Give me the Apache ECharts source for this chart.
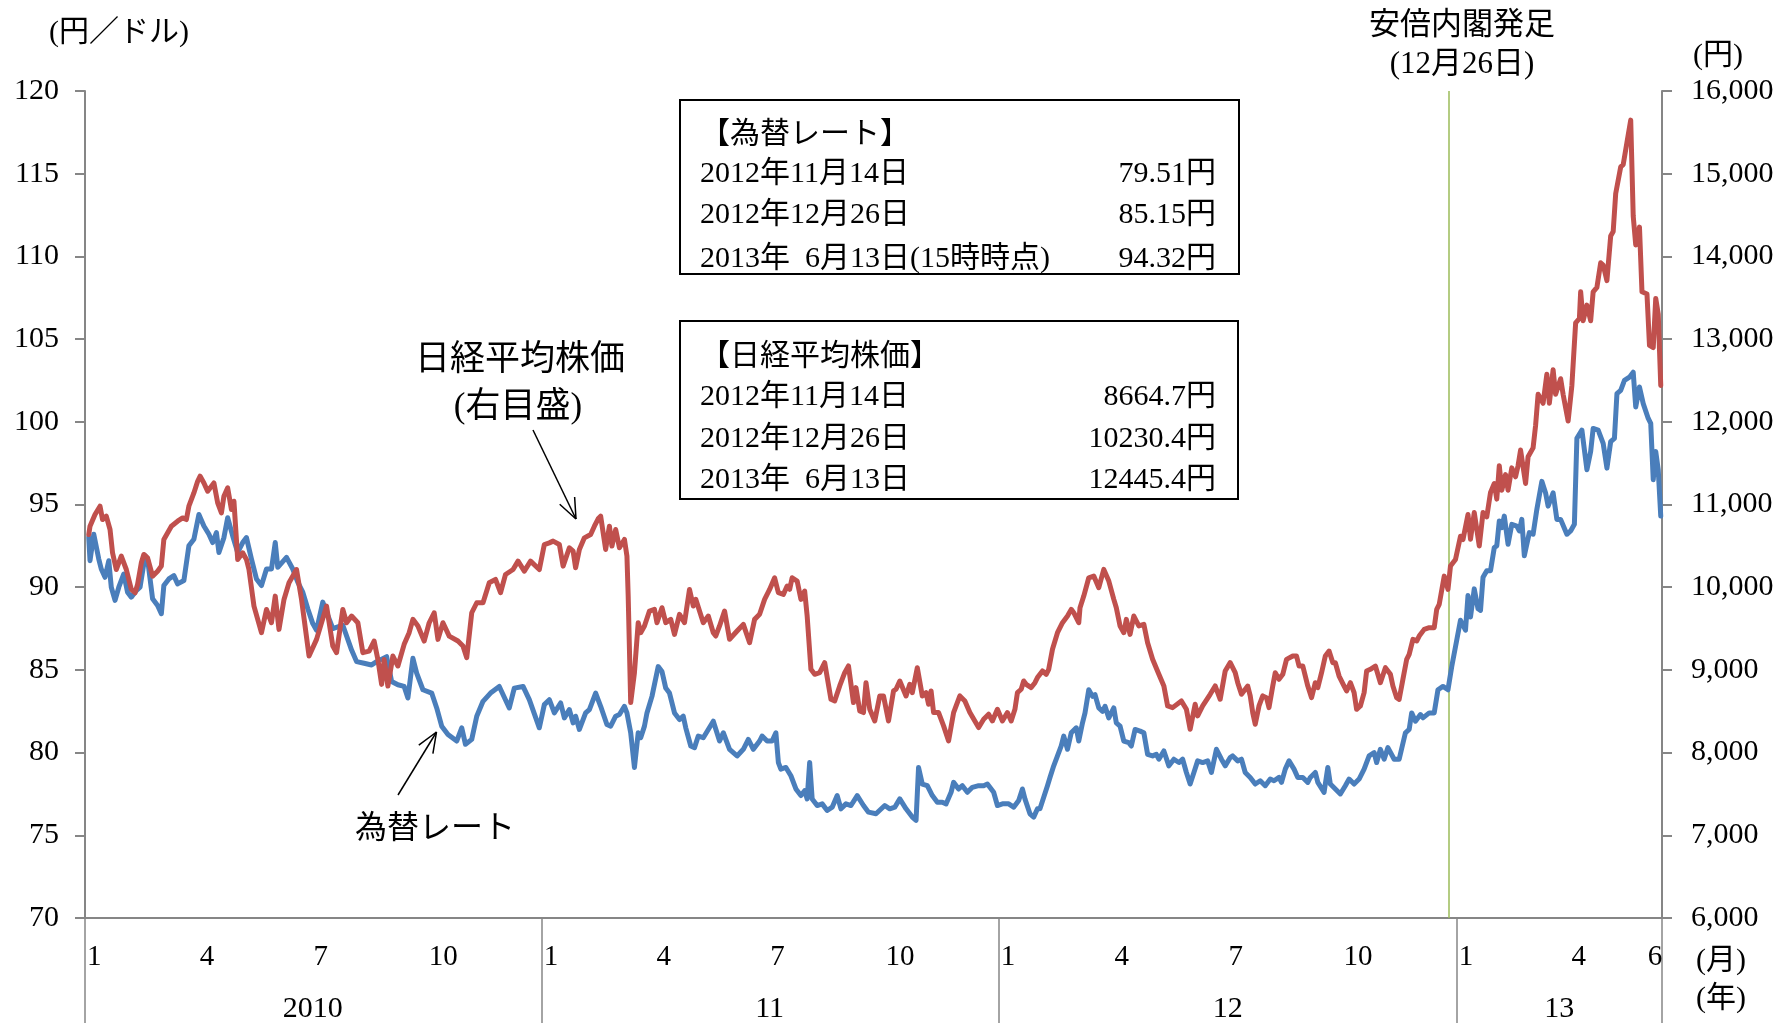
<!DOCTYPE html>
<html>
<head>
<meta charset="utf-8">
<script src="https://cdn.jsdelivr.net/npm/echarts@6/dist/echarts.min.js"></script>
<style>
html,body{margin:0;padding:0;background:#fff;}
#chart{width:1782px;height:1024px;}
</style>
</head>
<body>
<div id="chart"></div>
<script>
// ---- Data ----
// USD/JPY (円／ドル, left axis)
const fxRate = [
['2010-01-04',93.0],['2010-01-05',91.6],['2010-01-08',93.2],['2010-01-12',91.7],['2010-01-14',91.1],['2010-01-17',90.6],['2010-01-20',91.6],['2010-01-22',90.0],['2010-01-25',89.2],['2010-01-28',90.0],
['2010-02-01',90.8],['2010-02-04',89.7],['2010-02-07',89.4],['2010-02-11',89.8],['2010-02-14',90.0],['2010-02-18',91.9],['2010-02-20',91.7],['2010-02-24',89.3],['2010-02-28',88.9],
['2010-03-03',88.4],['2010-03-05',90.1],['2010-03-09',90.5],['2010-03-13',90.7],['2010-03-16',90.2],['2010-03-21',90.4],['2010-03-25',92.5],['2010-03-29',92.9],
['2010-04-02',94.4],['2010-04-06',93.7],['2010-04-10',93.2],['2010-04-13',92.7],['2010-04-16',93.3],['2010-04-18',92.1],['2010-04-22',93.0],['2010-04-25',94.2],['2010-04-29',93.1],
['2010-05-03',92.1],['2010-05-07',92.7],['2010-05-10',93.0],['2010-05-14',91.7],['2010-05-18',90.5],['2010-05-22',90.1],['2010-05-26',91.1],['2010-05-30',91.1],
['2010-06-02',92.7],['2010-06-04',91.2],['2010-06-11',91.8],['2010-06-16',91.1],['2010-06-20',90.3],['2010-06-24',89.7],['2010-06-28',88.7],
['2010-07-02',87.8],['2010-07-05',87.4],['2010-07-10',89.1],['2010-07-18',87.5],['2010-07-26',87.7],
['2010-08-02',86.2],['2010-08-06',85.5],['2010-08-12',85.4],['2010-08-18',85.3],['2010-08-22',85.5],['2010-08-30',85.8],
['2010-09-03',84.3],['2010-09-08',84.1],['2010-09-13',84.0],['2010-09-16',83.3],['2010-09-20',85.7],['2010-09-23',84.8],['2010-09-28',83.8],
['2010-10-05',83.6],['2010-10-09',82.7],['2010-10-13',81.6],['2010-10-18',81.1],['2010-10-25',80.7],['2010-10-29',81.5],
['2010-11-01',80.5],['2010-11-06',80.8],['2010-11-10',82.2],['2010-11-15',83.1],['2010-11-21',83.6],['2010-11-28',84.0],
['2010-12-06',82.7],['2010-12-10',83.9],['2010-12-17',84.0],['2010-12-22',83.2],['2010-12-30',81.5],
['2011-01-03',82.9],['2011-01-07',83.2],['2011-01-11',82.4],['2011-01-16',83.0],['2011-01-19',82.1],['2011-01-23',82.6],['2011-01-26',81.8],['2011-01-28',82.2],['2011-01-31',81.4],
['2011-02-05',82.4],['2011-02-08',82.6],['2011-02-13',83.6],['2011-02-17',82.8],['2011-02-22',81.7],['2011-02-25',81.6],
['2011-03-01',82.2],['2011-03-04',82.3],['2011-03-08',82.8],['2011-03-10',82.4],['2011-03-13',81.2],['2011-03-16',79.1],['2011-03-19',81.2],['2011-03-21',80.9],['2011-03-24',81.6],['2011-03-26',82.4],['2011-03-30',83.4],
['2011-04-04',85.2],['2011-04-07',84.9],['2011-04-10',83.9],['2011-04-13',83.6],['2011-04-17',82.4],['2011-04-21',82.0],['2011-04-24',82.2],['2011-04-26',81.5],['2011-04-30',80.4],
['2011-05-03',80.3],['2011-05-06',81.0],['2011-05-10',80.9],['2011-05-14',81.4],['2011-05-18',81.9],['2011-05-23',80.7],['2011-05-26',81.2],['2011-05-31',80.2],
['2011-06-06',79.8],['2011-06-11',80.2],['2011-06-15',80.8],['2011-06-19',80.2],['2011-06-24',80.7],['2011-06-26',81.0],['2011-06-30',80.7],
['2011-07-04',80.7],['2011-07-07',81.2],['2011-07-09',79.4],['2011-07-11',79.0],['2011-07-15',79.1],['2011-07-19',78.6],['2011-07-23',77.8],['2011-07-27',77.4],['2011-07-30',77.7],
['2011-08-01',77.2],['2011-08-03',79.4],['2011-08-05',77.2],['2011-08-09',76.8],['2011-08-13',76.9],['2011-08-17',76.5],['2011-08-21',76.7],['2011-08-25',77.4],['2011-08-28',76.6],
['2011-09-01',76.9],['2011-09-05',76.8],['2011-09-10',77.4],['2011-09-15',76.8],['2011-09-19',76.4],['2011-09-25',76.3],
['2011-10-02',76.8],['2011-10-06',76.6],['2011-10-10',76.7],['2011-10-14',77.2],['2011-10-19',76.6],['2011-10-24',76.1],['2011-10-27',75.9],['2011-10-29',79.1],
['2011-11-01',78.1],['2011-11-05',78.0],['2011-11-09',77.4],['2011-11-13',77.0],['2011-11-17',77.0],['2011-11-20',76.9],['2011-11-24',77.6],['2011-11-26',78.2],['2011-11-30',77.8],
['2011-12-03',78.0],['2011-12-07',77.6],['2011-12-11',77.9],['2011-12-16',78.0],['2011-12-20',78.0],['2011-12-23',78.1],['2011-12-28',77.6],['2011-12-31',76.8],
['2012-01-04',76.9],['2012-01-09',76.9],['2012-01-13',76.7],['2012-01-17',77.1],['2012-01-20',77.8],['2012-01-22',77.2],['2012-01-26',76.3],['2012-01-29',76.1],
['2012-02-01',76.6],['2012-02-03',76.6],['2012-02-06',77.3],['2012-02-09',78.0],['2012-02-11',78.5],['2012-02-14',79.2],['2012-02-17',79.8],['2012-02-20',80.4],['2012-02-22',81.0],['2012-02-25',80.2],['2012-02-28',81.2],
['2012-03-03',81.5],['2012-03-05',80.7],['2012-03-08',81.8],['2012-03-10',82.4],['2012-03-13',83.8],['2012-03-16',83.4],['2012-03-18',83.5],['2012-03-21',82.7],['2012-03-24',82.5],['2012-03-26',82.8],['2012-03-29',82.1],
['2012-04-02',82.7],['2012-04-04',81.8],['2012-04-07',81.6],['2012-04-10',80.7],['2012-04-14',80.6],['2012-04-16',80.4],['2012-04-19',81.4],['2012-04-23',81.3],['2012-04-26',81.2],['2012-04-29',79.9],
['2012-05-03',79.8],['2012-05-06',79.9],['2012-05-08',79.6],['2012-05-12',80.1],['2012-05-16',79.2],['2012-05-20',79.6],['2012-05-24',79.4],['2012-05-27',79.6],['2012-05-30',78.8],
['2012-06-02',78.1],['2012-06-05',78.8],['2012-06-08',79.5],['2012-06-12',79.4],['2012-06-16',79.5],['2012-06-19',78.8],['2012-06-23',80.2],['2012-06-27',79.6],['2012-06-30',79.2],
['2012-07-04',79.7],['2012-07-06',79.8],['2012-07-10',79.5],['2012-07-13',79.6],['2012-07-16',78.8],['2012-07-20',78.5],['2012-07-24',78.1],['2012-07-28',78.3],
['2012-08-01',78.0],['2012-08-05',78.4],['2012-08-08',78.3],['2012-08-12',78.5],['2012-08-14',78.2],['2012-08-17',79.0],['2012-08-20',79.5],['2012-08-24',79.0],['2012-08-27',78.5],['2012-08-31',78.5],
['2012-09-04',78.2],['2012-09-06',78.5],['2012-09-10',78.8],['2012-09-12',78.2],['2012-09-17',77.6],['2012-09-20',79.1],['2012-09-22',78.1],['2012-09-26',77.8],['2012-09-30',77.5],
['2012-10-04',78.0],['2012-10-07',78.4],['2012-10-11',78.1],['2012-10-15',78.4],['2012-10-19',79.0],['2012-10-23',79.8],['2012-10-27',80.0],['2012-10-29',79.4],
['2012-11-01',80.2],['2012-11-04',79.6],['2012-11-07',80.3],['2012-11-12',79.6],['2012-11-16',79.6],['2012-11-21',81.2],['2012-11-24',81.4],['2012-11-26',82.4],['2012-11-29',81.9],
['2012-12-03',82.3],['2012-12-05',82.1],['2012-12-10',82.4],['2012-12-14',82.4],['2012-12-17',83.8],['2012-12-21',84.0],['2012-12-25',83.8],['2012-12-28',85.2],
['2013-01-01',86.8],['2013-01-04',88.0],['2013-01-08',87.4],['2013-01-10',89.5],['2013-01-12',88.2],['2013-01-15',89.9],['2013-01-18',88.7],['2013-01-20',88.6],['2013-01-22',90.6],['2013-01-25',91.0],['2013-01-28',91.0],['2013-01-31',92.4],
['2013-02-02',92.5],['2013-02-04',94.0],['2013-02-06',93.6],['2013-02-08',94.3],['2013-02-11',92.6],['2013-02-14',93.8],['2013-02-18',93.7],['2013-02-20',93.4],['2013-02-22',94.1],['2013-02-24',91.9],['2013-02-28',93.3],
['2013-03-03',93.2],['2013-03-06',94.7],['2013-03-10',96.4],['2013-03-13',95.7],['2013-03-15',94.9],['2013-03-19',95.7],['2013-03-22',94.1],['2013-03-25',94.1],['2013-03-30',93.2],
['2013-04-02',93.4],['2013-04-05',93.8],['2013-04-07',99.0],['2013-04-11',99.5],['2013-04-15',97.1],['2013-04-18',98.2],['2013-04-20',99.6],['2013-04-24',99.5],['2013-04-28',98.7],
['2013-05-01',97.2],['2013-05-04',98.8],['2013-05-07',99.0],['2013-05-09',101.7],['2013-05-12',101.9],['2013-05-15',102.5],['2013-05-19',102.7],['2013-05-22',103.0],['2013-05-24',100.9],['2013-05-27',102.1],['2013-05-30',101.1],
['2013-06-03',100.2],['2013-06-05',99.9],['2013-06-07',96.5],['2013-06-09',98.2],['2013-06-11',97.1],['2013-06-13',94.3]
];

// Nikkei 225 (円, right axis)
const nikkei = [
['2010-01-04',10637],['2010-01-05',10738],['2010-01-09',10879],['2010-01-13',10979],['2010-01-15',10818],['2010-01-18',10859],['2010-01-21',10698],['2010-01-23',10416],['2010-01-26',10214],['2010-01-30',10375],
['2010-02-03',10214],['2010-02-07',9973],['2010-02-10',9933],['2010-02-12',10033],['2010-02-15',10295],['2010-02-17',10396],['2010-02-20',10355],['2010-02-24',10134],['2010-02-28',10194],
['2010-03-03',10255],['2010-03-05',10577],['2010-03-11',10738],['2010-03-16',10798],['2010-03-20',10838],['2010-03-23',10818],['2010-03-25',10979],['2010-03-29',11140],
['2010-04-01',11281],['2010-04-03',11342],['2010-04-06',11261],['2010-04-09',11161],['2010-04-14',11261],['2010-04-17',11020],['2010-04-20',10899],['2010-04-22',11100],['2010-04-25',11201],['2010-04-28',10939],['2010-04-30',11040],
['2010-05-03',10335],['2010-05-07',10416],['2010-05-10',10335],['2010-05-12',10214],['2010-05-16',9772],['2010-05-22',9450],['2010-05-26',9731],['2010-05-30',9570],
['2010-06-02',9892],['2010-06-05',9490],['2010-06-09',9852],['2010-06-13',10053],['2010-06-19',10214],['2010-06-23',9852],['2010-06-29',9168],
['2010-07-05',9369],['2010-07-13',9772],['2010-07-18',9288],['2010-07-21',9208],['2010-07-26',9731],['2010-07-29',9570],
['2010-08-02',9651],['2010-08-07',9570],['2010-08-11',9208],['2010-08-16',9228],['2010-08-20',9349],['2010-08-23',9127],['2010-08-26',8825],['2010-08-28',9127],['2010-08-31',8805],
['2010-09-04',9168],['2010-09-08',9047],['2010-09-13',9309],['2010-09-17',9450],['2010-09-20',9611],['2010-09-24',9530],['2010-09-29',9349],
['2010-10-03',9570],['2010-10-07',9691],['2010-10-10',9369],['2010-10-14',9570],['2010-10-19',9409],['2010-10-26',9349],['2010-10-30',9288],
['2010-11-02',9148],['2010-11-06',9691],['2010-11-10',9812],['2010-11-15',9812],['2010-11-20',10053],['2010-11-25',10094],['2010-11-29',9933],
['2010-12-03',10154],['2010-12-09',10214],['2010-12-13',10315],['2010-12-18',10194],['2010-12-23',10315],['2010-12-30',10214],
['2011-01-03',10516],['2011-01-07',10536],['2011-01-10',10557],['2011-01-15',10517],['2011-01-18',10255],['2011-01-23',10477],['2011-01-26',10436],['2011-01-28',10235],['2011-01-31',10457],
['2011-02-04',10597],['2011-02-09',10638],['2011-02-12',10738],['2011-02-15',10827],['2011-02-17',10859],['2011-02-21',10457],['2011-02-24',10738],['2011-02-26',10497],
['2011-03-01',10698],['2011-03-04',10477],['2011-03-08',10577],['2011-03-10',10376],['2011-03-11',9893],['2011-03-13',8605],['2011-03-16',8967],['2011-03-19',9571],['2011-03-21',9450],['2011-03-24',9531],['2011-03-28',9712],
['2011-04-01',9732],['2011-04-03',9571],['2011-04-07',9752],['2011-04-10',9571],['2011-04-14',9611],['2011-04-17',9430],['2011-04-21',9672],['2011-04-25',9571],['2011-04-29',9973],
['2011-05-02',9772],['2011-05-04',9853],['2011-05-10',9571],['2011-05-14',9651],['2011-05-18',9450],['2011-05-20',9410],['2011-05-23',9531],['2011-05-27',9712],['2011-05-31',9370],
['2011-06-06',9470],['2011-06-11',9551],['2011-06-16',9329],['2011-06-20',9611],['2011-06-24',9672],['2011-06-28',9853],
['2011-07-02',9973],['2011-07-06',10114],['2011-07-09',9933],['2011-07-13',9913],['2011-07-16',10014],['2011-07-18',9974],['2011-07-20',10114],['2011-07-24',10074],['2011-07-27',9853],['2011-07-30',9953],
['2011-08-01',9651],['2011-08-04',9007],['2011-08-07',8947],['2011-08-11',8967],['2011-08-15',9088],['2011-08-20',8645],['2011-08-23',8625],['2011-08-27',8806],['2011-08-31',8967],
['2011-09-03',9048],['2011-09-07',8605],['2011-09-09',8786],['2011-09-12',8504],['2011-09-15',8484],['2011-09-17',8846],['2011-09-20',8524],['2011-09-24',8383],['2011-09-28',8685],
['2011-10-01',8685],['2011-10-05',8383],['2011-10-09',8746],['2011-10-11',8766],['2011-10-14',8866],['2011-10-19',8685],['2011-10-22',8826],['2011-10-24',8725],['2011-10-28',9027],
['2011-11-01',8685],['2011-11-04',8725],['2011-11-06',8585],['2011-11-08',8746],['2011-11-10',8484],['2011-11-14',8484],['2011-11-18',8323],['2011-11-22',8142],['2011-11-26',8484],
['2011-12-01',8685],['2011-12-05',8625],['2011-12-09',8484],['2011-12-16',8303],['2011-12-20',8403],['2011-12-24',8464],['2011-12-27',8383],['2011-12-31',8524],
['2012-01-04',8383],['2012-01-08',8484],['2012-01-11',8383],['2012-01-14',8524],['2012-01-16',8725],['2012-01-19',8766],['2012-01-21',8866],['2012-01-23',8826],['2012-01-27',8786],['2012-01-30',8846],
['2012-02-01',8907],['2012-02-05',8987],['2012-02-08',8947],['2012-02-10',9007],['2012-02-13',9249],['2012-02-17',9450],['2012-02-21',9571],['2012-02-25',9651],['2012-02-28',9732],
['2012-03-01',9692],['2012-03-05',9571],['2012-03-06',9752],['2012-03-09',9893],['2012-03-13',10114],['2012-03-17',10135],['2012-03-21',9994],['2012-03-25',10215],['2012-03-29',10074],
['2012-04-02',9853],['2012-04-04',9752],['2012-04-07',9531],['2012-04-10',9450],['2012-04-12',9611],['2012-04-15',9430],['2012-04-18',9651],['2012-04-22',9531],['2012-04-26',9551],['2012-04-29',9329],
['2012-05-03',9128],['2012-05-08',8947],['2012-05-12',8806],['2012-05-15',8564],['2012-05-19',8544],['2012-05-26',8625],['2012-05-30',8524],
['2012-06-02',8283],['2012-06-06',8584],['2012-06-08',8444],['2012-06-12',8564],['2012-06-18',8705],['2012-06-22',8806],['2012-06-26',8645],['2012-06-30',8987],
['2012-07-04',9088],['2012-07-08',8966],['2012-07-10',8845],['2012-07-13',8705],['2012-07-18',8805],['2012-07-20',8685],['2012-07-22',8483],['2012-07-24',8342],['2012-07-27',8564],['2012-07-30',8685],
['2012-08-02',8664],['2012-08-04',8544],['2012-08-07',8805],['2012-08-09',8966],['2012-08-12',8886],['2012-08-15',8946],['2012-08-18',9127],['2012-08-23',9168],['2012-08-26',9168],['2012-08-28',9047],['2012-08-31',9047],
['2012-09-04',8805],['2012-09-07',8664],['2012-09-10',8845],['2012-09-12',8785],['2012-09-15',8966],['2012-09-18',9168],['2012-09-21',9228],['2012-09-24',9087],['2012-09-26',9087],['2012-09-29',8926],
['2012-10-03',8805],['2012-10-05',8745],['2012-10-08',8845],['2012-10-11',8725],['2012-10-13',8523],['2012-10-16',8564],['2012-10-19',8725],['2012-10-21',8986],['2012-10-24',9007],['2012-10-28',9047],
['2012-11-01',8845],['2012-11-05',9027],['2012-11-09',8946],['2012-11-11',8805],['2012-11-14',8664],['2012-11-16',8644],['2012-11-19',8886],['2012-11-22',9127],['2012-11-24',9188],['2012-11-27',9369],['2012-11-30',9349],
['2012-12-02',9409],['2012-12-06',9490],['2012-12-10',9510],['2012-12-14',9510],['2012-12-16',9731],['2012-12-18',9792],['2012-12-22',10134],['2012-12-25',9973],['2012-12-27',10255],['2012-12-31',10335],
['2013-01-04',10617],['2013-01-06',10577],['2013-01-10',10879],['2013-01-12',10580],['2013-01-15',10903],['2013-01-19',10499],['2013-01-22',10903],['2013-01-25',10850],['2013-01-28',11146],['2013-01-31',11254],
['2013-02-02',11065],['2013-02-04',11469],['2013-02-06',11173],['2013-02-09',11362],['2013-02-11',11173],['2013-02-14',11443],['2013-02-17',11335],['2013-02-19',11469],['2013-02-21',11658],['2013-02-25',11254],['2013-02-27',11577],
['2013-03-03',11685],['2013-03-05',11955],['2013-03-07',12332],['2013-03-11',12224],['2013-03-14',12575],['2013-03-16',12224],['2013-03-19',12629],['2013-03-21',12332],['2013-03-25',12521],['2013-03-27',12332],['2013-03-31',12009],
['2013-04-03',12440],['2013-04-06',13195],['2013-04-09',13249],['2013-04-10',13572],['2013-04-12',13222],['2013-04-15',13411],['2013-04-18',13222],['2013-04-20',13572],['2013-04-23',13626],['2013-04-26',13923],['2013-04-28',13896],
['2013-05-01',13707],['2013-05-04',14246],['2013-05-06',14300],['2013-05-08',14759],['2013-05-12',15082],['2013-05-14',15109],['2013-05-17',15379],['2013-05-20',15648],['2013-05-22',14489],['2013-05-24',14139],['2013-05-27',14354],['2013-05-29',13572],
['2013-06-02',13545],['2013-06-04',12925],['2013-06-07',12898],['2013-06-09',13492],['2013-06-11',13303],['2013-06-13',12440]
];

// Axis ranges / ticks
const xStart = '2010-01-01';
const xEnd = '2013-06-14';
const monthLabelDates = ['2010-01-01','2010-04-01','2010-07-01','2010-10-01','2011-01-01','2011-04-01','2011-07-01','2011-10-01','2012-01-01','2012-04-01','2012-07-01','2012-10-01','2013-01-01','2013-04-01','2013-06-01'];
const yearLabelDates = ['2010-07-02','2011-07-02','2012-07-02','2013-03-24'];
const yearLabels = ['2010','11','12','13'];
const yearSeparatorDates = ['2010-01-01','2011-01-01','2012-01-01','2013-01-01','2013-06-14'];
const abeCabinetDate = '2012-12-26';

// Text boxes
const fxBoxTitle = '【為替レート】';
const fxBoxRows = [['2012年11月14日','79.51円'],['2012年12月26日','85.15円'],['2013年\u20026月13日(15時時点)','94.32円']];
const nkBoxTitle = '【日経平均株価】';
const nkBoxRows = [['2012年11月14日','8664.7円'],['2012年12月26日','10230.4円'],['2013年\u20026月13日','12445.4円']];

// ---- Rendering ----
const FONT = "'Liberation Serif', 'Noto Sans CJK JP', serif";
const AXIS_GRAY = '#868686';
const RED = '#C0504D';
const BLUE = '#4A7EBB';
const GREEN = '#9BBB59';

function ts(s){ const p = s.split('-').map(Number); return new Date(p[0], p[1]-1, p[2]).getTime(); }

const chart = echarts.init(document.getElementById('chart'), null, {renderer:'canvas'});

function txt(text, x, y, size, align, valign){
  return {type:'text', z:100, style:{text:text, x:x, y:y, fill:'#000',
    font: size + 'px ' + FONT, textAlign:align||'center', textVerticalAlign:valign||'middle',
    align:align||'center', verticalAlign:valign||'middle'}};
}
function line(x1,y1,x2,y2,w){
  return {type:'line', z:100, shape:{x1:x1,y1:y1,x2:x2,y2:y2}, style:{stroke:'#000', lineWidth:w||1.5}};
}

const graphics = [
  txt('(円／ドル)', 119, 33, 30),
  txt('(円)', 1718, 56, 30),
  txt('(月)', 1721, 961, 30),
  txt('(年)', 1721, 999, 30),
  txt('安倍内閣発足', 1462, 26, 31),
  txt('(12月26日)', 1462, 65, 31),
  txt('日経平均株価', 520, 361, 35),
  txt('(右目盛)', 518, 408, 35),
  txt('為替レート', 435, 830, 32),
  // arrows
  line(533, 430, 576, 519), line(576, 519, 574.6, 497), line(576, 519, 559.7, 504.2),
  line(398, 795, 436.5, 732), line(436.5, 732, 418.8, 745.1), line(436.5, 732, 432.9, 753.7),
  // boxes
  {type:'rect', z:100, shape:{x:680, y:100, width:559, height:174}, style:{fill:'none', stroke:'#000', lineWidth:2}},
  {type:'rect', z:100, shape:{x:680, y:321, width:558, height:178}, style:{fill:'none', stroke:'#000', lineWidth:2}},
  txt(fxBoxTitle, 700, 135, 30, 'left'),
  txt(nkBoxTitle, 700, 357, 30, 'left')
];
const fxRowY = [174, 215, 259];
fxBoxRows.forEach((r,i)=>{ graphics.push(txt(r[0], 700, fxRowY[i], 30, 'left')); graphics.push(txt(r[1], 1216, fxRowY[i], 30, 'right')); });
const nkRowY = [397, 439, 480];
nkBoxRows.forEach((r,i)=>{ graphics.push(txt(r[0], 700, nkRowY[i], 30, 'left')); graphics.push(txt(r[1], 1216, nkRowY[i], 30, 'right')); });

const option = {
  animation: false,
  backgroundColor: '#ffffff',
  textStyle: {fontFamily: FONT},
  grid: {left: 85, right: 120, top: 91, bottom: 105, containLabel: false},
  xAxis: [
    {
      type: 'value', min: ts(xStart), max: ts(xEnd), position: 'bottom',
      axisLine: {show: true, lineStyle: {color: AXIS_GRAY, width: 2}},
      axisTick: {show: true, inside: false, length: 105, customValues: yearSeparatorDates.map(ts), lineStyle: {color: AXIS_GRAY, width: 1.5}},
      axisLabel: {show: true, customValues: monthLabelDates.map(ts), align: 'left', margin: 25,
        color: '#000', fontSize: 29, fontFamily: FONT, padding: [0,0,0,2],
        formatter: function(v){ return String(new Date(v).getMonth() + 1); }},
      splitLine: {show: false}
    },
    {
      type: 'value', min: ts(xStart), max: ts(xEnd), position: 'bottom', gridIndex: 0,
      axisLine: {show: false}, axisTick: {show: false}, splitLine: {show: false},
      axisLabel: {show: true, customValues: yearLabelDates.map(ts), align: 'center', margin: 76,
        color: '#000', fontSize: 30, fontFamily: FONT,
        formatter: function(v){ const y = new Date(v).getFullYear(); return yearLabels[y - 2010]; }}
    }
  ],
  yAxis: [
    {
      type: 'value', min: 70, max: 120, interval: 5, position: 'left',
      axisLine: {show: true, lineStyle: {color: AXIS_GRAY, width: 2}},
      axisTick: {show: true, inside: false, length: 10, lineStyle: {color: AXIS_GRAY, width: 2}},
      axisLabel: {color: '#000', fontSize: 30, fontFamily: FONT, margin: 26},
      splitLine: {show: false}
    },
    {
      type: 'value', min: 6000, max: 16000, interval: 1000, position: 'right',
      axisLine: {show: true, lineStyle: {color: AXIS_GRAY, width: 2}},
      axisTick: {show: true, inside: false, length: 10, lineStyle: {color: AXIS_GRAY, width: 2}},
      axisLabel: {color: '#000', fontSize: 30, fontFamily: FONT, margin: 29,
        formatter: function(v){ return v.toLocaleString('en-US'); }},
      splitLine: {show: false}
    }
  ],
  series: [
    {
      name: '為替レート', type: 'line', xAxisIndex: 0, yAxisIndex: 0,
      data: fxRate.map(p => [ts(p[0]), p[1]]),
      symbol: 'none', showSymbol: false, smooth: false, z: 3,
      lineStyle: {color: BLUE, width: 5, cap: 'round', join: 'round'},
      itemStyle: {color: BLUE},
      markLine: {silent: true, symbol: 'none', label: {show: false}, z: 1,
        lineStyle: {color: GREEN, width: 1.5, type: 'solid'},
        data: [{xAxis: ts(abeCabinetDate)}]}
    },
    {
      name: '日経平均株価', type: 'line', xAxisIndex: 0, yAxisIndex: 1,
      data: nikkei.map(p => [ts(p[0]), p[1]]),
      symbol: 'none', showSymbol: false, smooth: false, z: 4,
      lineStyle: {color: RED, width: 5, cap: 'round', join: 'round'},
      itemStyle: {color: RED}
    }
  ],
  graphic: graphics
};
chart.setOption(option);
</script>
</body>
</html>
